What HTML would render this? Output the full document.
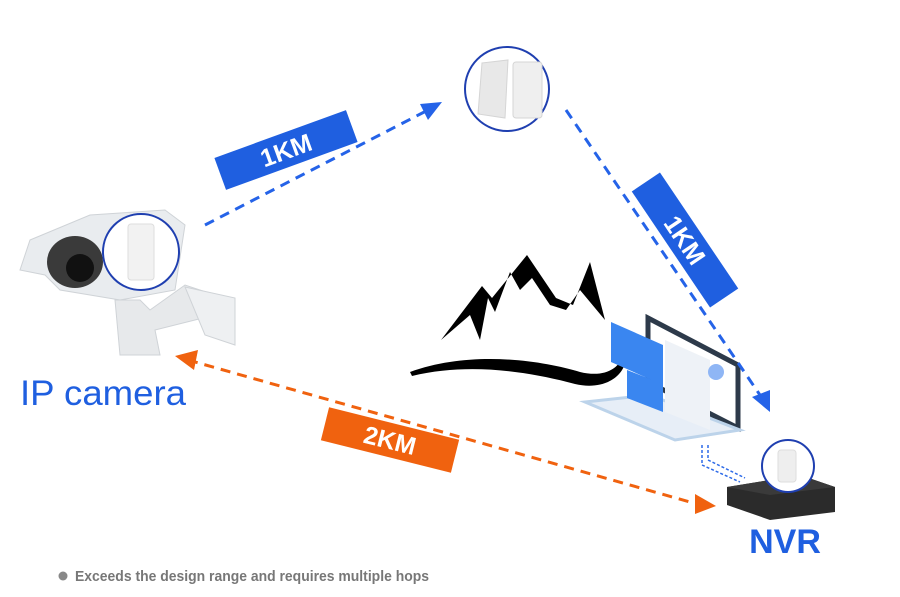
<!DOCTYPE html>
<html><head><meta charset="utf-8"><style>
html,body{margin:0;padding:0;background:#fff;width:900px;height:597px;overflow:hidden}
svg{display:block}
text{font-family:"Liberation Sans",sans-serif}
</style></head><body>
<svg width="900" height="597" viewBox="0 0 900 597">
<!-- mountain -->
<path d="M441,340 L482,286 L492,298 L527,255 L556,298 L573,305 L590,262 L605,320 L580,290 L566,310 L550,305 L532,278 L520,290 L510,272 L495,312 L488,298 L480,340 L470,315 Z" fill="#000"/>
<path d="M410,372 C470,350 540,360 580,372 C605,378 618,368 622,358 L626,360 C622,380 600,390 575,384 C530,372 470,362 412,376 Z" fill="#000"/>
<!-- laptop -->
<polygon points="648,318 738,365 738,428 648,382" fill="#fff" stroke="#2d3a4a" stroke-width="5"/>
<polygon points="585,402 675,440 740,430 650,395" fill="#e7eef7" stroke="#bcd3ea" stroke-width="3"/>
<polygon points="665,340 710,360 710,430 665,412" fill="#eef2f7"/>
<circle cx="716" cy="372" r="8" fill="#8fb6f5"/>
<polygon points="611,322 663,345 663,385 611,362" fill="#3a86f0"/>
<polygon points="627,370 663,384 663,412 627,398" fill="#3a86f0"/>
<path d="M702,445 L702,465 L740,482 M708,445 L708,460 L745,478" stroke="#2d6ae8" stroke-width="1.5" stroke-dasharray="3,2" fill="none"/>
<!-- NVR -->
<polygon points="727,487 800,475 835,487 835,512 770,520 727,505" fill="#2b2b2b"/>
<polygon points="727,487 800,475 835,487 770,495" fill="#3a3a3a"/>
<circle cx="788" cy="466" r="26" fill="#fff" stroke="#1f3fb0" stroke-width="2"/>
<rect x="778" y="450" width="18" height="32" rx="3" fill="#eee" stroke="#ddd"/>
<text x="785" y="553" text-anchor="middle" font-size="34" font-weight="bold" fill="#1f5fe0">NVR</text>
<!-- camera -->
<path d="M30,240 L90,215 L165,210 L185,225 L175,290 L120,300 L60,290 L45,275 L20,270 Z" fill="#e9ecef" stroke="#cfd3d7"/>
<ellipse cx="75" cy="262" rx="28" ry="26" fill="#3a3a3a"/>
<circle cx="80" cy="268" r="14" fill="#111"/>
<path d="M115,300 L120,355 L160,355 L155,330 L215,315 L215,295 L185,285 L150,310 L140,300 Z" fill="#e7e9eb" stroke="#cfd3d7"/>
<polygon points="185,287 235,298 235,345 205,335" fill="#eef0f2" stroke="#cfd3d7"/>
<circle cx="141" cy="252" r="38" fill="#fff" stroke="#1f3fb0" stroke-width="2"/>
<rect x="128" y="224" width="26" height="56" rx="3" fill="#f2f2f2" stroke="#ddd"/>
<text x="20" y="405" font-size="35" fill="#1f5fe0" textLength="166" lengthAdjust="spacingAndGlyphs">IP camera</text>
<!-- top node -->
<circle cx="507" cy="89" r="42" fill="#fff" stroke="#1f3fb0" stroke-width="2"/>
<polygon points="482,63 508,60 505,118 478,114" fill="#e8e8e8" stroke="#d5d5d5"/>
<rect x="513" y="62" width="29" height="56" rx="3" fill="#efefef" stroke="#d5d5d5"/>
<!-- connectors -->
<line x1="205" y1="225" x2="432" y2="108" stroke="#2563e8" stroke-width="3" stroke-dasharray="10,7"/>
<polygon points="442,102 420,104 428,120" fill="#2563e8"/>
<line x1="566" y1="110" x2="762" y2="398" stroke="#2563e8" stroke-width="3" stroke-dasharray="10,7"/>
<polygon points="770,412 752,397 770,390" fill="#2563e8"/>
<line x1="188" y1="360" x2="690" y2="502" stroke="#f0620f" stroke-width="3" stroke-dasharray="10,7"/>
<polygon points="175,356 198,350 194,370" fill="#f0620f"/>
<polygon points="716,506 695,494 695,514" fill="#f0620f"/>
<!-- labels -->
<g transform="translate(286,150) rotate(-20)"><rect x="-70" y="-17" width="140" height="34" fill="#1f5fe0"/><text y="9" text-anchor="middle" font-size="25" font-weight="bold" fill="#fff">1KM</text></g>
<g transform="translate(685,240) rotate(56)"><rect x="-70" y="-17" width="140" height="34" fill="#1f5fe0"/><text y="9" text-anchor="middle" font-size="25" font-weight="bold" fill="#fff">1KM</text></g>
<g transform="translate(390,440) rotate(14)"><rect x="-67" y="-17" width="134" height="34" fill="#f0620f"/><text y="9" text-anchor="middle" font-size="25" font-weight="bold" fill="#fff">2KM</text></g>
<!-- footnote -->
<circle cx="63" cy="576" r="4.5" fill="#888"/>
<text x="75" y="581" font-size="15" font-weight="bold" fill="#777" textLength="354" lengthAdjust="spacingAndGlyphs">Exceeds the design range and requires multiple hops</text>
</svg>
</body></html>
